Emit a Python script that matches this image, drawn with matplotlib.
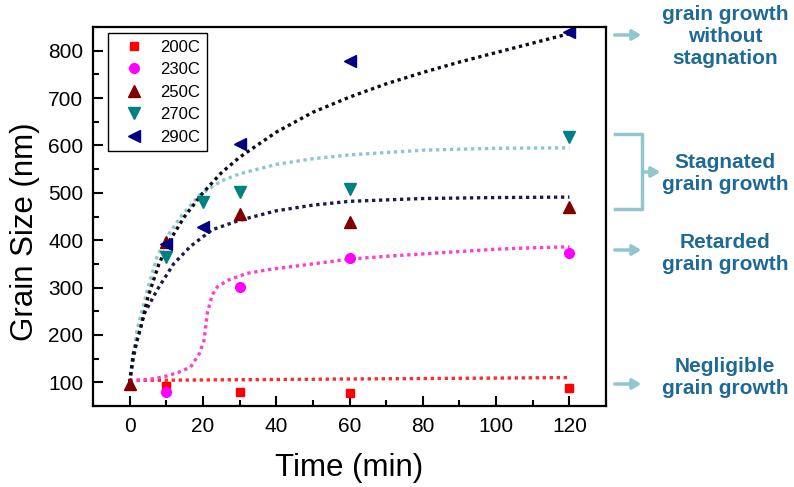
import matplotlib
matplotlib.use("Agg")
import matplotlib.pyplot as plt
from matplotlib.lines import Line2D
from matplotlib.patches import FancyArrowPatch
from matplotlib.ticker import MultipleLocator

plt.rcParams['font.family'] = ['Liberation Sans', 'DejaVu Sans']

# measured points (time in min, grain size in nm)
t_200 = [10, 30, 60, 120]
g_200 = [93, 80, 77, 87]
t_230 = [10, 30, 60, 120]
g_230 = [79, 302, 362, 373]
t_250 = [0, 10, 30, 60, 120]
g_250 = [97, 397, 456, 439, 469]
t_270 = [10, 20, 30, 60, 120]
g_270 = [365, 481, 501, 507, 617]
t_290 = [10, 20, 30, 60, 120]
g_290 = [392, 428, 602, 779, 840]

# fitted curves
fit_t_200 = [0, 20, 40, 60, 80, 100, 120]
fit_g_200 = [104, 105, 106, 107, 108, 109, 110]
fit_t_230 = [0, 5, 9, 13, 16.6, 19, 20.3, 21.2, 22.5, 24, 27, 32, 38, 44, 50, 60, 70, 80, 90, 100, 110, 120]
fit_g_230 = [104, 106, 111, 120, 132, 160, 188, 246, 284, 302, 316, 330, 338, 344, 350, 360, 366, 371, 376, 381, 384, 386]
fit_t_250 = [0, 1, 2, 4, 7.5, 12, 16.6, 22.5, 30, 40, 50, 60, 80, 100, 120]
fit_g_250 = [100, 150, 190, 245, 295, 350, 387, 422, 442, 462, 474, 482, 488, 490, 491]
fit_t_270 = [0, 1, 2, 5, 7.5, 10, 14, 19, 25, 30, 40, 50, 60, 80, 100, 120]
fit_g_270 = [100, 160, 210, 300, 365, 405, 450, 495, 525, 540, 560, 572, 580, 590, 594, 595]
fit_t_290 = [0, 1, 3, 5, 8, 11, 15, 20, 25, 30, 40, 50, 60, 70, 80, 90, 100, 110, 120]
fit_g_290 = [100, 160, 215, 280, 350, 400, 450, 500, 542, 575, 628, 670, 702, 730, 754, 776, 796, 816, 836]

notes = ["grain growth\nwithout\nstagnation", "Stagnated\ngrain growth",
         "Retarded\ngrain growth", "Negligible\ngrain growth"]

W, H = 794, 487
def fx(px):
    return px / W
def fy(py):
    return 1 - py / H

fig = plt.figure(figsize=(7.94, 4.87), dpi=100)
ax = fig.add_axes([fx(93), fy(406), (606 - 93) / W, (406 - 27) / H])

dot = (0, (1, 1.1))
ax.plot(fit_t_200, fit_g_200, color='#ff2a2a', lw=2.4, ls=dot)
ax.plot(fit_t_230, fit_g_230, color='#ff3fcf', lw=2.4, ls=dot)
ax.plot(fit_t_250, fit_g_250, color='#1c1c48', lw=2.4, ls=dot)
ax.plot(fit_t_270, fit_g_270, color='#8ec6ce', lw=2.4, ls=dot)
ax.plot(fit_t_290, fit_g_290, color='#0d0d1a', lw=2.4, ls=dot)

ax.plot(t_200, g_200, 's', color='#ff0000', ms=6, ls='none', label='200C')
ax.plot(t_230, g_230, 'o', color='#ff00ff', ms=7, ls='none', label='230C')
ax.plot(t_250, g_250, '^', color='#800000', ms=8, ls='none', label='250C')
ax.plot(t_270, g_270, 'v', color='#008080', ms=8, ls='none', label='270C')
ax.plot(t_290, g_290, '<', color='#000080', ms=8, ls='none', label='290C')

ax.set_xlim(-10, 130)
ax.set_ylim(50, 850)
ax.xaxis.set_major_locator(MultipleLocator(20))
ax.xaxis.set_minor_locator(MultipleLocator(10))
ax.yaxis.set_major_locator(MultipleLocator(100))
ax.yaxis.set_minor_locator(MultipleLocator(50))
ax.tick_params(which='both', direction='in', top=False, right=False, width=1.5, labelsize=15)
ax.tick_params(which='major', length=7)
ax.tick_params(which='minor', length=4)
ax.tick_params(axis='y', pad=7)
ax.tick_params(axis='x', pad=8)
for s in ax.spines.values():
    s.set_linewidth(1.6)

ax.set_xlabel('Time (min)', fontsize=22.5, va='center')
ax.xaxis.set_label_coords(0.5, -0.164)
ax.set_ylabel('Grain Size (nm)', fontsize=22.5, va='center')
ax.yaxis.set_label_coords(-0.133, 0.46)

leg = ax.legend(loc='upper left', bbox_to_anchor=(0.029, 0.984), borderaxespad=0,
                fontsize=12, frameon=True, fancybox=False, framealpha=1,
                edgecolor='black', handlelength=2.3, handletextpad=0.45,
                labelspacing=0.45, borderpad=0.4)
leg.get_frame().set_linewidth(1.0)

# right-hand notes with arrows
acol = '#92c5cc'
tcol = '#1f6a95'
for y in [35, 250, 384]:
    fig.add_artist(FancyArrowPatch((fx(612), fy(y)), (fx(644), fy(y)), transform=fig.transFigure,
                                   arrowstyle='-|>,head_length=5,head_width=3', color=acol, lw=2.5,
                                   mutation_scale=1))
fig.add_artist(Line2D([fx(615), fx(642), fx(642), fx(615)], [fy(134), fy(134), fy(209), fy(209)],
                      color=acol, lw=2.5, transform=fig.transFigure))
fig.add_artist(FancyArrowPatch((fx(642), fy(172)), (fx(663), fy(172)), transform=fig.transFigure,
                               arrowstyle='-|>,head_length=5,head_width=3', color=acol, lw=2.5,
                               mutation_scale=1))

for txt, y in zip(notes, [37, 173.5, 253.5, 377.5]):
    fig.text(fx(725), fy(y), txt, ha='center', va='center', fontsize=15,
             fontweight='bold', color=tcol)

fig.savefig('out.png', dpi=100)
